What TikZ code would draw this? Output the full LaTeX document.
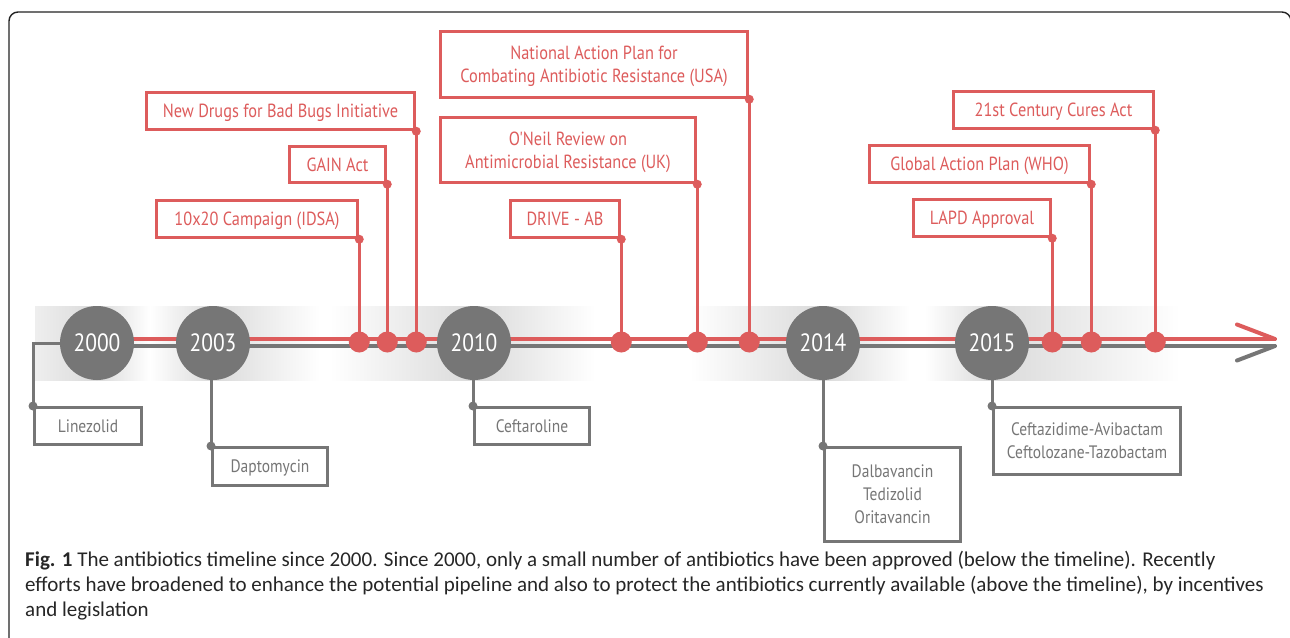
\documentclass[tikz,border=0pt]{standalone}
\usepackage{fontspec}
\setmainfont{Carlito}
\newfontfamily\lbl[FakeStretch=0.86]{PT Sans}
\definecolor{tlred}{RGB}{221,92,92}
\definecolor{tlgray}{RGB}{118,118,118}
\definecolor{bandgray}{RGB}{218,218,218}
\definecolor{framegray}{RGB}{35,35,35}
\begin{document}
\begin{tikzpicture}[x=1pt,y=-1pt,
  redbox/.style={draw=tlred, line width=3.5pt, fill=white, text=tlred,
    font=\lbl\fontsize{19}{23}\selectfont, align=center, inner sep=0pt,
    text depth=0pt},
  graybox/.style={draw=tlgray, line width=3pt, fill=white, text=tlgray,
    font=\lbl\fontsize{18}{23}\selectfont, align=center, inner sep=0pt,
    text depth=0pt},
  yearnode/.style={circle, fill=tlgray, text=white, minimum size=74pt,
    inner sep=0pt, font=\lbl\fontsize{25}{25}\selectfont},
  reddot/.style={circle, fill=tlred, minimum size=21pt, inner sep=0pt},
  redline/.style={draw=tlred, line width=4pt},
  grayline/.style={draw=tlgray, line width=4pt},
  redlink/.style={draw=tlred, line width=3.5pt},
  graylink/.style={draw=tlgray, line width=3pt},
  barb/.style={line width=4pt, line cap=round}]
\useasboundingbox (0,0) rectangle (1290,637);

% frame
\draw[framegray, line width=1.4pt, rounded corners=9pt]
  (9,650) -- (9,12) -- (1291,12) -- (1291,60);

% soft bands behind the year circles
\shade[left color=bandgray!45, right color=bandgray] (35,306) rectangle (97,380);
\shade[left color=bandgray, right color=white] (97,306) rectangle (150,380);
\shade[left color=white, right color=bandgray] (150,306) rectangle (213,380);
\shade[left color=bandgray, right color=white] (213,306) rectangle (320,380);
\shade[left color=white, right color=bandgray] (330,306) rectangle (474,380);
\shade[left color=bandgray, right color=white] (474,306) rectangle (595,380);
\shade[left color=white, right color=bandgray] (690,306) rectangle (823,380);
\shade[left color=bandgray, right color=white] (823,306) rectangle (910,380);
\shade[left color=white, right color=bandgray] (925,306) rectangle (992,380);
\shade[left color=bandgray, right color=white] (992,306) rectangle (1180,380);

% main lines with open arrow barbs
\coordinate (redstart) at (97,339);
\coordinate (graystart) at (97,346);
\coordinate (redend) at (1275,339);
\coordinate (grayend) at (1275,346);
\draw[redline] (redstart) -- (redend);
\draw[grayline] (graystart) -- (grayend);
\draw[tlred, barb] (redend) -- ++(-38,-14.5);
\draw[tlgray, barb] (grayend) -- ++(-38,14.5);

% year circles
\node[yearnode] (y2000) at (97,343) {2000};
\node[yearnode] (y2003) at (213,343) {2003};
\node[yearnode] (y2010) at (474,343) {2010};
\node[yearnode] (y2014) at (823,343) {2014};
\node[yearnode] (y2015) at (992,343) {2015};

% efforts above the timeline
\node[redbox, minimum width=268pt, minimum height=37pt] (ndbb) at (280.5,111) {New Drugs for Bad Bugs Initiative};
\node[redbox, minimum width=96pt, minimum height=36pt] (gain) at (337.5,164.5) {GAIN Act};
\node[redbox, minimum width=201pt, minimum height=37pt] (idsa) at (257,219) {10x20 Campaign (IDSA)};
\node[redbox, minimum width=307pt, minimum height=66pt] (nap) at (594,64.5) {National Action Plan for\\Combating Antibiotic Resistance (USA)};
\node[redbox, minimum width=255pt, minimum height=65pt] (oneil) at (568,150) {O'Neil Review on\\Antimicrobial Resistance (UK)};
\node[redbox, minimum width=109pt, minimum height=37pt] (drive) at (565,219) {DRIVE - AB};
\node[redbox, minimum width=200pt, minimum height=37pt] (cures) at (1053.5,110) {21st Century Cures Act};
\node[redbox, minimum width=220pt, minimum height=37pt] (gap) at (979.5,164) {Global Action Plan (WHO)};
\node[redbox, minimum width=137pt, minimum height=37pt] (lapd) at (982,218) {LAPD Approval};

% event dots on the timeline, linked up to their boxes
\foreach \b in {idsa,gain,ndbb,drive,oneil,nap,lapd,gap,cures}{
  \coordinate (d\b) at (\b.south east |- 0,342);
  \draw[redlink] (\b.south east) -- (d\b);
  \fill[tlred] (\b.south east) circle (4.5pt);
  \node[reddot] (dot\b) at (d\b) {};
}

% approvals below the timeline
\node[graybox, minimum width=107pt, minimum height=37pt] (linezolid) at (88,426) {Linezolid};
\node[graybox, minimum width=115pt, minimum height=38pt] (dapto) at (270,466.5) {Daptomycin};
\node[graybox, minimum width=115pt, minimum height=37pt] (ceftaroline) at (532,426) {Ceftaroline};
\node[graybox, minimum width=136pt, minimum height=94pt] (dalba) at (892.5,494.5) {Dalbavancin\\Tedizolid\\Oritavancin};
\node[graybox, minimum width=187pt, minimum height=67pt] (ceftaz) at (1087,441) {Ceftazidime-Avibactam\\Ceftolozane-Tazobactam};

\draw[graylink] (y2000.west) -| (linezolid.north west);
\draw[graylink] (y2003.south -| dapto.north west) -- (dapto.north west);
\draw[graylink] (y2010.south -| ceftaroline.north west) -- (ceftaroline.north west);
\draw[graylink] (y2014.south -| dalba.north west) -- (dalba.north west);
\draw[graylink] (y2015.south -| ceftaz.north west) -- (ceftaz.north west);
\foreach \b in {linezolid,dapto,ceftaroline,dalba,ceftaz}{
  \fill[tlgray] (\b.north west) circle (4.5pt);
}

% caption
\begin{scope}[font=\fontsize{21}{25}\selectfont, text=black!85]
\node[anchor=base west, inner sep=0pt] (cap1) at (25,566) {\textbf{Fig. 1} The antibiotics timeline since 2000. Since 2000, only a small number of antibiotics have been approved (below the timeline). Recently};
\node[anchor=base west, inner sep=0pt] (cap2) at (25,591) {efforts have broadened to enhance the potential pipeline and also to protect the antibiotics currently available (above the timeline), by incentives};
\node[anchor=base west, inner sep=0pt] (cap3) at (25,616) {and legislation};
\end{scope}
\end{tikzpicture}
\end{document}
